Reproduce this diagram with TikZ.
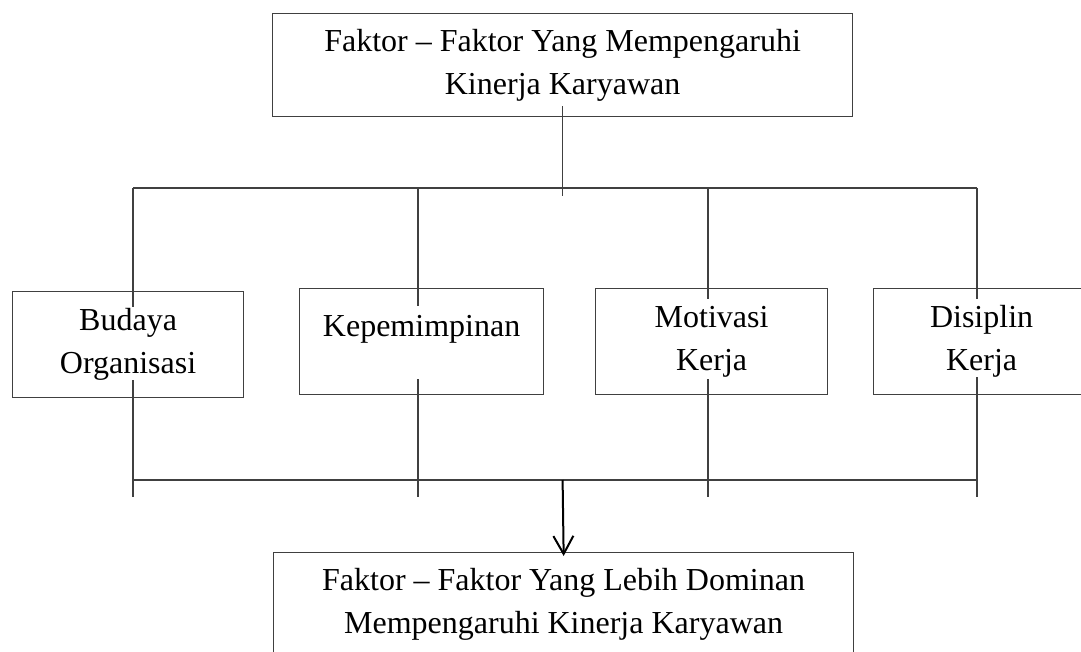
\documentclass[tikz,border=0pt]{standalone}
\usepackage{fontspec}
\setmainfont{Liberation Serif}
\usetikzlibrary{arrows.meta,positioning,calc}
\tikzset{
  kotak/.style={rectangle,draw=black!75,line width=0.6pt,fill=white,
                align=center,font=\fontsize{16}{21.5}\selectfont,
                inner sep=0pt,anchor=north west,minimum height=53pt},
  kotakbesar/.style={kotak,minimum width=290pt,minimum height=51.5pt},
  garis/.style={draw=black!75,line width=0.55pt},
  panah/.style={-{Straight Barb[length=9pt,width=10pt]},black,line width=1pt,
                shorten >=-2pt},
}
\begin{document}
\begin{tikzpicture}[x=0.5pt,y=-0.5pt]
    \useasboundingbox (0,0) rectangle (1081,652);
    \clip (0,0) rectangle (1081,652);
    % kotak atas dan bawah
    \node[kotakbesar] (faktor) at (272,13) {Faktor -- Faktor Yang Mempengaruhi\\Kinerja Karyawan};
    \node[kotakbesar] (hasil) at (273,552) {Faktor -- Faktor Yang Lebih Dominan\\Mempengaruhi Kinerja Karyawan};
    % empat faktor
    \node[kotak,minimum width=115.5pt] (budaya) at (12,291) {Budaya\\Organisasi};
    \node[kotak,minimum width=122pt,text height=10pt,text depth=15pt] (kepemimpinan) at (299,288) {Kepemimpinan};
    \node[kotak,minimum width=116pt] (motivasi) at (595,288) {Motivasi\\Kerja};
    \node[kotak,minimum width=108pt] (disiplin) at (873,288) {Disiplin\\Kerja};
    % garis penghubung
    \foreach \n/\x/\u/\l in {budaya/133/16/18,kepemimpinan/418/18/16,motivasi/708/11/16,disiplin/977/11/18} {
      \coordinate (\n-atas) at (\x,188);
      \coordinate (\n-bawah) at (\x,480);
      \draw[garis] (\n-atas) -- ($(\n-atas |- \n.north)+(0,\u)$);
      \draw[garis] ($(\n-bawah |- \n.south)+(0,-\l)$) -- ($(\n-bawah)+(0,17)$);
    }
    \draw[garis] ($(faktor.south)+(0,-11)$) -- ($(faktor.south)+(0,79)$);
    \draw[garis] (budaya-atas) -- (disiplin-atas);
    \draw[garis] (budaya-bawah) -- (disiplin-bawah);
    \draw[panah] (faktor.south |- budaya-bawah) -- (hasil.north);
\end{tikzpicture}
\end{document}
